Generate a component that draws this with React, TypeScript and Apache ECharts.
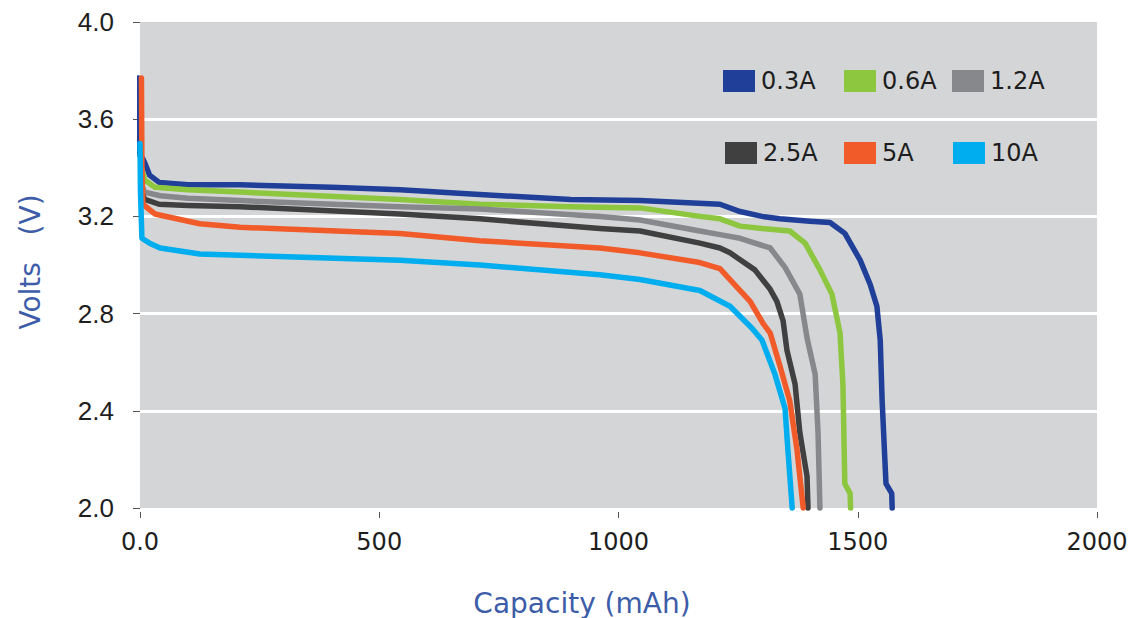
import React, { useEffect, useRef } from "react";
import * as echarts from "echarts";

const seriesNames = ["0.3A", "0.6A", "1.2A", "2.5A", "5A", "10A"];
const seriesColors = ["#1f3f99", "#8dc63f", "#87888c", "#404040", "#f15a29", "#00aeef"];

const cap03 = [-3, -2, 0, 5, 10, 20, 40, 100, 209, 400, 543, 710, 900, 1045, 1212, 1254, 1300, 1337, 1400, 1442, 1473, 1505, 1526, 1540, 1547, 1551, 1559, 1571, 1572];
const volt03 = [3.77, 3.5, 3.45, 3.44, 3.42, 3.37, 3.34, 3.33, 3.33, 3.32, 3.31, 3.29, 3.27, 3.265, 3.25, 3.22, 3.2, 3.19, 3.18, 3.175, 3.13, 3.02, 2.92, 2.83, 2.69, 2.44, 2.1, 2.06, 2.0];

const cap06 = [3, 10, 31, 100, 209, 543, 710, 900, 1045, 1170, 1212, 1254, 1300, 1358, 1390, 1421, 1446, 1463, 1469, 1473, 1484, 1485];
const volt06 = [3.4, 3.35, 3.32, 3.31, 3.3, 3.27, 3.25, 3.24, 3.235, 3.2, 3.19, 3.16, 3.15, 3.14, 3.09, 2.98, 2.88, 2.72, 2.51, 2.1, 2.06, 2.0];

const cap12 = [3, 10, 42, 100, 209, 543, 710, 961, 1045, 1170, 1212, 1254, 1317, 1348, 1379, 1394, 1411, 1417, 1421];
const volt12 = [3.33, 3.3, 3.285, 3.275, 3.265, 3.24, 3.23, 3.2, 3.185, 3.14, 3.125, 3.11, 3.07, 2.99, 2.88, 2.7, 2.55, 2.31, 2.0];

const cap25 = [3, 10, 40, 100, 209, 543, 710, 961, 1045, 1170, 1212, 1233, 1285, 1317, 1331, 1344, 1352, 1369, 1379, 1394, 1396];
const volt25 = [3.3, 3.27, 3.25, 3.245, 3.24, 3.21, 3.19, 3.15, 3.14, 3.09, 3.07, 3.05, 2.98, 2.9, 2.85, 2.77, 2.65, 2.51, 2.31, 2.13, 2.0];

const cap5 = [3, 4, 6, 31, 125, 209, 543, 710, 961, 1045, 1170, 1212, 1233, 1275, 1302, 1317, 1338, 1358, 1373, 1386];
const volt5 = [3.77, 3.4, 3.25, 3.21, 3.17, 3.155, 3.13, 3.1, 3.07, 3.05, 3.01, 2.985, 2.94, 2.85, 2.76, 2.72, 2.58, 2.44, 2.24, 2.0];

const cap10 = [0, 1, 4, 20, 42, 125, 209, 543, 710, 961, 1045, 1170, 1233, 1279, 1300, 1327, 1348, 1354, 1363];
const volt10 = [3.5, 3.3, 3.11, 3.09, 3.07, 3.045, 3.04, 3.02, 3.0, 2.96, 2.94, 2.895, 2.83, 2.74, 2.69, 2.55, 2.41, 2.24, 2.0];

const capacities = [cap03, cap06, cap12, cap25, cap5, cap10];
const voltages = [volt03, volt06, volt12, volt25, volt5, volt10];

const xTicks = { min: 0, max: 2000, interval: 500 };
const yTicks = { min: 2.0, max: 4.0, interval: 0.4 };

const legendPos = [
  [723, 69],
  [844, 69],
  [952, 69],
  [725, 141],
  [844, 141],
  [953, 141],
];

export default function App() {
  const ref = useRef<HTMLDivElement>(null);
  useEffect(() => {
    document.body.style.margin = "0";
    if (!ref.current) return;
    const chart = echarts.init(ref.current, null, { renderer: "svg" });
    const font = "DejaVu Sans";
    const series = seriesNames.map((name, i) => ({
      name,
      type: "line",
      data: capacities[i].map((c, j) => [c, voltages[i][j]]),
      showSymbol: false,
      symbol: "none",
      smooth: false,
      clip: false,
      lineStyle: { width: 5.5, color: seriesColors[i], cap: "round", join: "round" },
      itemStyle: { color: seriesColors[i] },
      z: 2 + i,
    }));
    const legends = seriesNames.map((name, i) => ({
      data: [name],
      left: legendPos[i][0],
      top: legendPos[i][1],
      icon: "rect",
      itemWidth: 32,
      itemHeight: 22,
      padding: 0,
      selectedMode: false,
      textStyle: { fontSize: 24, lineHeight: 24, color: "#1e1e1e", fontFamily: font, padding: [0, 0, 0, 1] },
    }));
    chart.setOption({
      animation: false,
      backgroundColor: "#ffffff",
      grid: {
        left: 140,
        right: 37,
        top: 22,
        bottom: 110,
        show: true,
        backgroundColor: "#d4d5d7",
        borderWidth: 0,
      },
      legend: legends,
      xAxis: {
        type: "value",
        min: xTicks.min,
        max: xTicks.max,
        interval: xTicks.interval,
        offset: 4,
        axisLine: { show: false },
        axisTick: { show: true, length: 6, lineStyle: { color: "#555", width: 1 } },
        splitLine: { show: false },
        axisLabel: {
          margin: 18,
          fontSize: 24,
          fontFamily: font,
          color: "#1e1e1e",
          formatter: (v: number) => (v === 0 ? "0.0" : String(v)),
        },
      },
      yAxis: {
        type: "value",
        min: yTicks.min,
        max: yTicks.max,
        interval: yTicks.interval,
        offset: 6,
        axisLine: { show: false },
        axisTick: { show: true, length: 7, lineStyle: { color: "#555", width: 1 } },
        splitLine: { show: true, showMinLine: false, showMaxLine: false, lineStyle: { color: "#ffffff", width: 3 } },
        axisLabel: {
          margin: 20,
          fontSize: 26,
          fontFamily: "Liberation Sans",
          color: "#1e1e1e",
          formatter: (v: number) => v.toFixed(1),
        },
      },
      graphic: [
        {
          type: "text",
          x: 582,
          y: 603,
          style: {
            text: "Capacity (mAh)",
            fontSize: 28,
            fontFamily: font,
            fill: "#3d5da8",
            align: "center",
            verticalAlign: "middle",
          },
        },
        {
          type: "text",
          x: 30,
          y: 262,
          rotation: Math.PI / 2,
          style: {
            text: "Volts   (V)",
            fontSize: 28,
            fontFamily: font,
            fill: "#3d5da8",
            align: "center",
            verticalAlign: "middle",
          },
        },
      ],
      series,
    });
    return () => chart.dispose();
  }, []);
  return <div ref={ref} style={{ width: 1134, height: 618 }} />;
}
